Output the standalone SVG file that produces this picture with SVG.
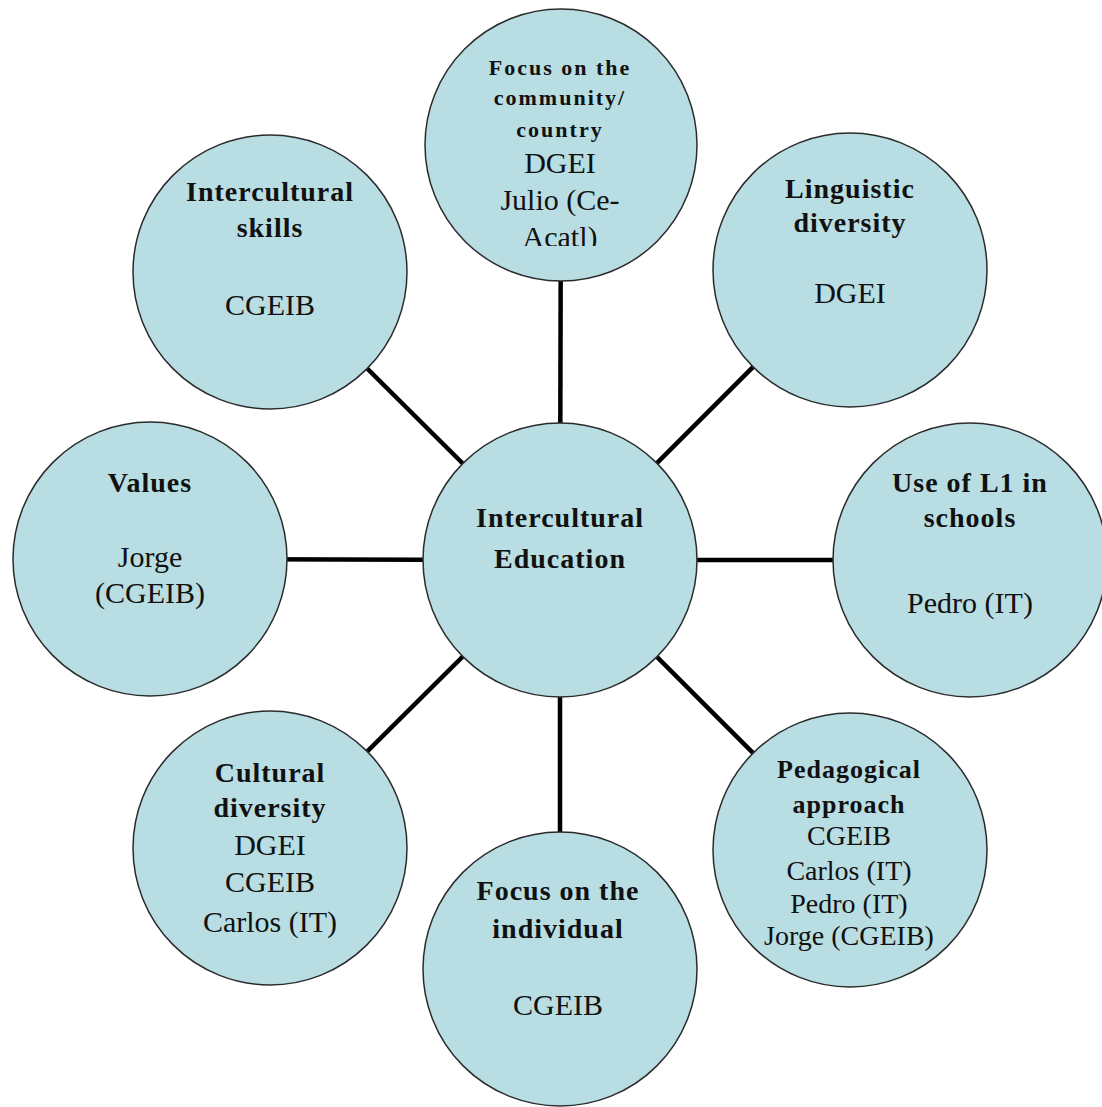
<svg xmlns="http://www.w3.org/2000/svg" width="1102" height="1107" viewBox="0 0 1102 1107">
<style>
.node{fill:#B8DDE2;stroke:#2b2b2b;stroke-width:1.5}
.b{font-family:"Liberation Serif",serif;font-weight:bold;fill:#111;text-anchor:middle;font-size:28px;letter-spacing:1px}
.r{font-family:"Liberation Serif",serif;fill:#111;text-anchor:middle;font-size:30px}
.s{font-size:22px;letter-spacing:2px}
.link{stroke:#000;stroke-width:4.5;fill:none}
</style>
<defs>
<clipPath id="topclip"><rect x="420" y="0" width="290" height="246"/></clipPath>
</defs>
<rect width="1102" height="1107" fill="#fff"/>
<g id="connectors">
<line class="link" x1="560" y1="560" x2="561" y2="145"/>
<line class="link" x1="560" y1="560" x2="270" y2="272"/>
<line class="link" x1="560" y1="560" x2="850" y2="270"/>
<line class="link" x1="560" y1="560" x2="150" y2="559"/>
<line class="link" x1="560" y1="560" x2="970" y2="560"/>
<line class="link" x1="560" y1="560" x2="270" y2="848"/>
<line class="link" x1="560" y1="560" x2="850" y2="850"/>
<line class="link" x1="560" y1="560" x2="560" y2="969"/>
</g>
<g id="center">
<circle class="node" cx="560" cy="560" r="137"/>
<text class="b" x="560" y="527">Intercultural</text>
<text class="b" x="560" y="568">Education</text>
</g>
<g id="community">
<circle class="node" cx="561" cy="145" r="136"/>
<g clip-path="url(#topclip)">
<text class="b s" x="560" y="75">Focus on the</text>
<text class="b s" x="560" y="105">community/</text>
<text class="b s" x="560" y="137">country</text>
<text class="r" x="560" y="173">DGEI</text>
<text class="r" x="560" y="210">Julio (Ce-</text>
<text class="r" x="560" y="247">Acatl)</text>
</g>
</g>
<g id="skills">
<circle class="node" cx="270" cy="272" r="137"/>
<text class="b" x="270" y="201">Intercultural</text>
<text class="b" x="270" y="237">skills</text>
<text class="r" x="270" y="315">CGEIB</text>
</g>
<g id="linguistic">
<circle class="node" cx="850" cy="270" r="137"/>
<text class="b" x="850" y="198">Linguistic</text>
<text class="b" x="850" y="232">diversity</text>
<text class="r" x="850" y="303">DGEI</text>
</g>
<g id="values">
<circle class="node" cx="150" cy="559" r="137"/>
<text class="b" x="150" y="492">Values</text>
<text class="r" x="150" y="567">Jorge</text>
<text class="r" x="150" y="603">(CGEIB)</text>
</g>
<g id="l1">
<circle class="node" cx="970" cy="560" r="137"/>
<text class="b" x="970" y="492">Use of L1 in</text>
<text class="b" x="970" y="527">schools</text>
<text class="r" x="970" y="613">Pedro (IT)</text>
</g>
<g id="cultural">
<circle class="node" cx="270" cy="848" r="137"/>
<text class="b" x="270" y="782">Cultural</text>
<text class="b" x="270" y="817">diversity</text>
<text class="r" x="270" y="855">DGEI</text>
<text class="r" x="270" y="892">CGEIB</text>
<text class="r" x="270" y="932">Carlos (IT)</text>
</g>
<g id="pedagogical">
<circle class="node" cx="850" cy="850" r="137"/>
<text class="b" x="849" y="778" style="font-size:26px">Pedagogical</text>
<text class="b" x="849" y="813" style="font-size:26px">approach</text>
<text class="r" x="849" y="845" style="font-size:28px">CGEIB</text>
<text class="r" x="849" y="880" style="font-size:28px">Carlos (IT)</text>
<text class="r" x="849" y="913" style="font-size:28px">Pedro (IT)</text>
<text class="r" x="849" y="945" style="font-size:28px">Jorge (CGEIB)</text>
</g>
<g id="individual">
<circle class="node" cx="560" cy="969" r="137"/>
<text class="b" x="558" y="900">Focus on the</text>
<text class="b" x="558" y="938">individual</text>
<text class="r" x="558" y="1015">CGEIB</text>
</g>
</svg>
